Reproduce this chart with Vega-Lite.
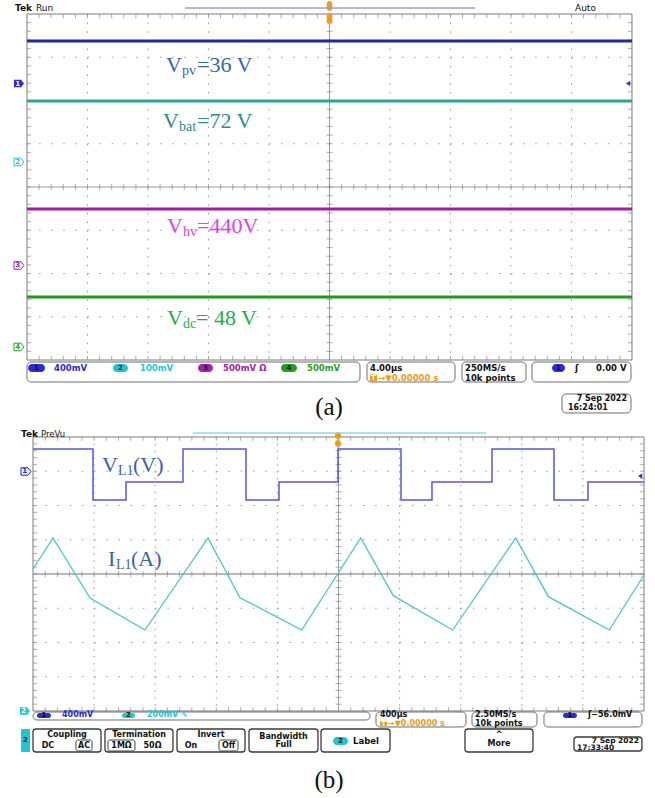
{
"$schema":"https://vega.github.io/schema/vega-lite/v6.json",
"background":"#ffffff",
"padding":0,
"spacing":0,
"bounds":"flush",
"config":{"view":{"stroke":null}},
"datasets":{
"gv":[{"x":1,"y":4,"y2":-4},{"x":2,"y":4,"y2":-4},{"x":3,"y":4,"y2":-4},{"x":4,"y":4,"y2":-4},{"x":6,"y":4,"y2":-4},{"x":7,"y":4,"y2":-4},{"x":8,"y":4,"y2":-4},{"x":9,"y":4,"y2":-4}],
"gh":[{"x":0,"x2":10,"y":3},{"x":0,"x2":10,"y":2},{"x":0,"x2":10,"y":1},{"x":0,"x2":10,"y":-1},{"x":0,"x2":10,"y":-2},{"x":0,"x2":10,"y":-3}],
"frame":[{"x":0,"x2":10,"y":-4,"y2":4}],
"ht":[{"x":0.2,"y":0,"a":3.95,"b":-3.95},{"x":0.4,"y":0,"a":3.95,"b":-3.95},{"x":0.6,"y":0,"a":3.95,"b":-3.95},{"x":0.8,"y":0,"a":3.95,"b":-3.95},{"x":1,"y":0,"a":3.95,"b":-3.95},{"x":1.2,"y":0,"a":3.95,"b":-3.95},{"x":1.4,"y":0,"a":3.95,"b":-3.95},{"x":1.6,"y":0,"a":3.95,"b":-3.95},{"x":1.8,"y":0,"a":3.95,"b":-3.95},{"x":2,"y":0,"a":3.95,"b":-3.95},{"x":2.2,"y":0,"a":3.95,"b":-3.95},{"x":2.4,"y":0,"a":3.95,"b":-3.95},{"x":2.6,"y":0,"a":3.95,"b":-3.95},{"x":2.8,"y":0,"a":3.95,"b":-3.95},{"x":3,"y":0,"a":3.95,"b":-3.95},{"x":3.2,"y":0,"a":3.95,"b":-3.95},{"x":3.4,"y":0,"a":3.95,"b":-3.95},{"x":3.6,"y":0,"a":3.95,"b":-3.95},{"x":3.8,"y":0,"a":3.95,"b":-3.95},{"x":4,"y":0,"a":3.95,"b":-3.95},{"x":4.2,"y":0,"a":3.95,"b":-3.95},{"x":4.4,"y":0,"a":3.95,"b":-3.95},{"x":4.6,"y":0,"a":3.95,"b":-3.95},{"x":4.8,"y":0,"a":3.95,"b":-3.95},{"x":5,"y":0,"a":3.95,"b":-3.95},{"x":5.2,"y":0,"a":3.95,"b":-3.95},{"x":5.4,"y":0,"a":3.95,"b":-3.95},{"x":5.6,"y":0,"a":3.95,"b":-3.95},{"x":5.8,"y":0,"a":3.95,"b":-3.95},{"x":6,"y":0,"a":3.95,"b":-3.95},{"x":6.2,"y":0,"a":3.95,"b":-3.95},{"x":6.4,"y":0,"a":3.95,"b":-3.95},{"x":6.6,"y":0,"a":3.95,"b":-3.95},{"x":6.8,"y":0,"a":3.95,"b":-3.95},{"x":7,"y":0,"a":3.95,"b":-3.95},{"x":7.2,"y":0,"a":3.95,"b":-3.95},{"x":7.4,"y":0,"a":3.95,"b":-3.95},{"x":7.6,"y":0,"a":3.95,"b":-3.95},{"x":7.8,"y":0,"a":3.95,"b":-3.95},{"x":8,"y":0,"a":3.95,"b":-3.95},{"x":8.2,"y":0,"a":3.95,"b":-3.95},{"x":8.4,"y":0,"a":3.95,"b":-3.95},{"x":8.6,"y":0,"a":3.95,"b":-3.95},{"x":8.8,"y":0,"a":3.95,"b":-3.95},{"x":9,"y":0,"a":3.95,"b":-3.95},{"x":9.2,"y":0,"a":3.95,"b":-3.95},{"x":9.4,"y":0,"a":3.95,"b":-3.95},{"x":9.6,"y":0,"a":3.95,"b":-3.95},{"x":9.8,"y":0,"a":3.95,"b":-3.95}],
"vt":[{"y":-3.8,"x":5,"l":0.035,"r":9.965},{"y":-3.6,"x":5,"l":0.035,"r":9.965},{"y":-3.4,"x":5,"l":0.035,"r":9.965},{"y":-3.2,"x":5,"l":0.035,"r":9.965},{"y":-3,"x":5,"l":0.035,"r":9.965},{"y":-2.8,"x":5,"l":0.035,"r":9.965},{"y":-2.6,"x":5,"l":0.035,"r":9.965},{"y":-2.4,"x":5,"l":0.035,"r":9.965},{"y":-2.2,"x":5,"l":0.035,"r":9.965},{"y":-2,"x":5,"l":0.035,"r":9.965},{"y":-1.8,"x":5,"l":0.035,"r":9.965},{"y":-1.6,"x":5,"l":0.035,"r":9.965},{"y":-1.4,"x":5,"l":0.035,"r":9.965},{"y":-1.2,"x":5,"l":0.035,"r":9.965},{"y":-1,"x":5,"l":0.035,"r":9.965},{"y":-0.8,"x":5,"l":0.035,"r":9.965},{"y":-0.6,"x":5,"l":0.035,"r":9.965},{"y":-0.4,"x":5,"l":0.035,"r":9.965},{"y":-0.2,"x":5,"l":0.035,"r":9.965},{"y":0,"x":5,"l":0.035,"r":9.965},{"y":0.2,"x":5,"l":0.035,"r":9.965},{"y":0.4,"x":5,"l":0.035,"r":9.965},{"y":0.6,"x":5,"l":0.035,"r":9.965},{"y":0.8,"x":5,"l":0.035,"r":9.965},{"y":1,"x":5,"l":0.035,"r":9.965},{"y":1.2,"x":5,"l":0.035,"r":9.965},{"y":1.4,"x":5,"l":0.035,"r":9.965},{"y":1.6,"x":5,"l":0.035,"r":9.965},{"y":1.8,"x":5,"l":0.035,"r":9.965},{"y":2,"x":5,"l":0.035,"r":9.965},{"y":2.2,"x":5,"l":0.035,"r":9.965},{"y":2.4,"x":5,"l":0.035,"r":9.965},{"y":2.6,"x":5,"l":0.035,"r":9.965},{"y":2.8,"x":5,"l":0.035,"r":9.965},{"y":3,"x":5,"l":0.035,"r":9.965},{"y":3.2,"x":5,"l":0.035,"r":9.965},{"y":3.4,"x":5,"l":0.035,"r":9.965},{"y":3.6,"x":5,"l":0.035,"r":9.965},{"y":3.8,"x":5,"l":0.035,"r":9.965}]
},
"vconcat":[
{
"width":655,"height":420,
"encoding":{
"x":{"field":"x","type":"quantitative","scale":{"domain":[-0.44628,10.38017],"nice":false,"zero":false},"axis":null},
"y":{"field":"y","type":"quantitative","scale":{"domain":[-5.38728,4.3237],"nice":false,"zero":false},"axis":null}
},
"layer":[
{"data":{"name":"gv"},"mark":{"type":"rule","color":"#9a9a9a","strokeWidth":1,"strokeDash":[1.5,7.15]},"encoding":{"y2":{"field":"y2"}}},
{"data":{"name":"gh"},"mark":{"type":"rule","color":"#9a9a9a","strokeWidth":1,"strokeDash":[1.5,10.6]},"encoding":{"x2":{"field":"x2"}}},
{"data":{"values":[{"x":5,"x2":5,"y":4,"y2":-4},{"x":0,"x2":10,"y":0,"y2":0}]},"mark":{"type":"rule","color":"#9a9a9a","strokeWidth":1},"encoding":{"x2":{"field":"x2"},"y2":{"field":"y2"}}},
{"data":{"name":"ht"},"mark":{"type":"tick","orient":"vertical","size":6,"thickness":1,"color":"#8a8a8a"}},
{"data":{"name":"ht"},"transform":[{"fold":["a","b"],"as":["side","yb"]}],"mark":{"type":"tick","orient":"vertical","size":4,"thickness":1,"color":"#8a8a8a"},
 "encoding":{"y":{"field":"yb","type":"quantitative","scale":{"domain":[-5.38728,4.3237],"nice":false,"zero":false},"axis":null}}},
{"data":{"name":"vt"},"mark":{"type":"tick","orient":"horizontal","size":6,"thickness":1,"color":"#8a8a8a"}},
{"data":{"name":"vt"},"transform":[{"fold":["l","r"],"as":["side","xb"]}],"mark":{"type":"tick","orient":"horizontal","size":4,"thickness":1,"color":"#8a8a8a"},
 "encoding":{"x":{"field":"xb","type":"quantitative","scale":{"domain":[-0.44628,10.38017],"nice":false,"zero":false},"axis":null}}},
{"data":{"name":"frame"},"mark":{"type":"rect","fill":"#ffffff","fillOpacity":0,"stroke":"#7a7a7a","strokeWidth":1},"encoding":{"x2":{"field":"x2"},"y2":{"field":"y2"}}},
{"data":{"values":[{"x":0,"y":3.376,"k":"t1"},{"x":10,"y":3.376,"k":"t1"},{"x":0,"y":1.988,"k":"t2"},{"x":10,"y":1.988,"k":"t2"},{"x":0,"y":-0.509,"k":"t3"},{"x":10,"y":-0.509,"k":"t3"},{"x":0,"y":-2.543,"k":"t4"},{"x":10,"y":-2.543,"k":"t4"}]},
 "mark":{"type":"line","strokeWidth":3.2},
 "encoding":{"color":{"field":"k","type":"nominal","scale":{"domain":["c1","c2","c3","c4","l1","l2","l3","l4","lb","t1","t2","t3","t4","k","o","w","v1","i1"],"range":["#2a2ad8","#1ec6d8","#a421a4","#1f9f1f","#3b62b4","#2d8c8c","#e83ce8","#22ae4a","#3b5fb0","#1e2b9b","#2aa59a","#a41aa4","#1f9a1f","#111111","#f09a1a","#ffffff","#5656e2","#46c8c8"]},"legend":null}}},
{"data":{"values":[{"x":2.298,"y":2.659,"t":"V","k":"l1"},{"x":2.81,"y":2.659,"t":"=36 V","k":"l1"},{"x":2.248,"y":1.364,"t":"V","k":"l2"},{"x":2.81,"y":1.364,"t":"=72 V","k":"l2"},{"x":2.314,"y":-1.064,"t":"V","k":"l3"},{"x":2.81,"y":-1.064,"t":"=440V","k":"l3"},{"x":2.314,"y":-3.191,"t":"V","k":"l4"},{"x":2.793,"y":-3.191,"t":"= 48 V","k":"l4"}]},
 "mark":{"type":"text","font":"Liberation Serif","fontSize":22,"align":"left","baseline":"alphabetic"},
 "encoding":{"text":{"field":"t"},"color":{"field":"k","type":"nominal","scale":{"domain":["c1","c2","c3","c4","l1","l2","l3","l4","lb","t1","t2","t3","t4","k","o","w","v1","i1"],"range":["#2a2ad8","#1ec6d8","#a421a4","#1f9f1f","#3b62b4","#2d8c8c","#e83ce8","#22ae4a","#3b5fb0","#1e2b9b","#2aa59a","#a41aa4","#1f9a1f","#111111","#f09a1a","#ffffff","#5656e2","#46c8c8"]},"legend":null}}},
{"data":{"values":[{"x":2.562,"y":2.59,"t":"pv","k":"l1"},{"x":2.512,"y":1.295,"t":"bat","k":"l2"},{"x":2.579,"y":-1.133,"t":"hv","k":"l3"},{"x":2.579,"y":-3.26,"t":"dc","k":"l4"}]},
 "mark":{"type":"text","font":"Liberation Serif","fontSize":14,"align":"left","baseline":"alphabetic"},
 "encoding":{"text":{"field":"t"},"color":{"field":"k","type":"nominal","scale":{"domain":["c1","c2","c3","c4","l1","l2","l3","l4","lb","t1","t2","t3","t4","k","o","w","v1","i1"],"range":["#2a2ad8","#1ec6d8","#a421a4","#1f9f1f","#3b62b4","#2d8c8c","#e83ce8","#22ae4a","#3b5fb0","#1e2b9b","#2aa59a","#a41aa4","#1f9a1f","#111111","#f09a1a","#ffffff","#5656e2","#46c8c8"]},"legend":null}}},
{"data":{"values":[{"x":0,"x2":5.504,"y":-4.046,"y2":-4.509},{"x":5.62,"x2":7.074,"y":-4.046,"y2":-4.509},{"x":7.19,"x2":8.248,"y":-4.046,"y2":-4.509},{"x":8.347,"x2":9.983,"y":-4.046,"y2":-4.509},{"x":8.843,"x2":9.983,"y":-4.786,"y2":-5.225}]},
 "mark":{"type":"rect","fill":"#ffffff","stroke":"#6e6e6e","strokeWidth":1,"cornerRadius":4},
 "encoding":{"x2":{"field":"x2"},"y2":{"field":"y2"}}},
{"data":{"values":[{"x":0.017,"x2":0.298,"y":-4.093,"y2":-4.278,"k":"c1"},{"x":1.421,"x2":1.669,"y":-4.093,"y2":-4.278,"k":"c2"},{"x":2.826,"x2":3.074,"y":-4.093,"y2":-4.278,"k":"c3"},{"x":4.198,"x2":4.463,"y":-4.093,"y2":-4.278,"k":"c4"},{"x":8.678,"x2":8.893,"y":-4.093,"y2":-4.278,"k":"c1"},{"x":4.954,"x2":5.046,"y":4.301,"y2":4.069,"k":"o"},{"x":4.954,"x2":5.046,"y":4.023,"y2":3.769,"k":"o"}]},
 "mark":{"type":"rect","cornerRadius":4},
 "encoding":{"x2":{"field":"x2"},"y2":{"field":"y2"},"color":{"field":"k","type":"nominal","scale":{"domain":["c1","c2","c3","c4","l1","l2","l3","l4","lb","t1","t2","t3","t4","k","o","w","v1","i1"],"range":["#2a2ad8","#1ec6d8","#a421a4","#1f9f1f","#3b62b4","#2d8c8c","#e83ce8","#22ae4a","#3b5fb0","#1e2b9b","#2aa59a","#a41aa4","#1f9a1f","#111111","#f09a1a","#ffffff","#5656e2","#46c8c8"]},"legend":null}}},
{"data":{"values":[{"x":5.669,"x2":5.785,"y":-4.335,"y2":-4.497,"k":"o"}]},
 "mark":{"type":"rect","cornerRadius":1},
 "encoding":{"x2":{"field":"x2"},"y2":{"field":"y2"},"color":{"field":"k","type":"nominal","scale":{"domain":["c1","c2","c3","c4","l1","l2","l3","l4","lb","t1","t2","t3","t4","k","o","w","v1","i1"],"range":["#2a2ad8","#1ec6d8","#a421a4","#1f9f1f","#3b62b4","#2d8c8c","#e83ce8","#22ae4a","#3b5fb0","#1e2b9b","#2aa59a","#a41aa4","#1f9a1f","#111111","#f09a1a","#ffffff","#5656e2","#46c8c8"]},"legend":null}}},
{"data":{"values":[{"x":2.612,"x2":7.405,"y":4.139}]},
 "mark":{"type":"rule","color":"#9a9af0","strokeWidth":1.5},
 "encoding":{"x2":{"field":"x2"}}},
{"data":{"values":[{"x":0.446,"y":-4.185,"t":"400mV","k":"c1"},{"x":1.868,"y":-4.185,"t":"100mV","k":"c2"},{"x":3.24,"y":-4.185,"t":"500mV Ω","k":"c3"},{"x":4.628,"y":-4.185,"t":"500mV","k":"c4"},{"x":5.669,"y":-4.185,"t":"4.00µs","k":"k"},{"x":5.802,"y":-4.416,"t":"→▼0.00000 s","k":"o"},{"x":7.24,"y":-4.185,"t":"250MS/s","k":"k"},{"x":7.24,"y":-4.416,"t":"10k points","k":"k"},{"x":9.058,"y":-4.185,"t":"ʃ","k":"k"},{"x":9.405,"y":-4.185,"t":"0.00 V","k":"k"}]},
 "mark":{"type":"text","font":"DejaVu Sans","fontSize":8.5,"fontWeight":"bold","align":"left","baseline":"middle"},
 "encoding":{"text":{"field":"t"},"color":{"field":"k","type":"nominal","scale":{"domain":["c1","c2","c3","c4","l1","l2","l3","l4","lb","t1","t2","t3","t4","k","o","w","v1","i1"],"range":["#2a2ad8","#1ec6d8","#a421a4","#1f9f1f","#3b62b4","#2d8c8c","#e83ce8","#22ae4a","#3b5fb0","#1e2b9b","#2aa59a","#a41aa4","#1f9a1f","#111111","#f09a1a","#ffffff","#5656e2","#46c8c8"]},"legend":null}}},
{"data":{"values":[{"x":9.058,"y":4.139,"t":"Auto","k":"k"},{"x":0.149,"y":4.139,"t":"Run","k":"k"}]},
 "mark":{"type":"text","font":"DejaVu Sans","fontSize":9,"align":"left","baseline":"middle"},
 "encoding":{"text":{"field":"t"},"color":{"field":"k","type":"nominal","scale":{"domain":["c1","c2","c3","c4","l1","l2","l3","l4","lb","t1","t2","t3","t4","k","o","w","v1","i1"],"range":["#2a2ad8","#1ec6d8","#a421a4","#1f9f1f","#3b62b4","#2d8c8c","#e83ce8","#22ae4a","#3b5fb0","#1e2b9b","#2aa59a","#a41aa4","#1f9a1f","#111111","#f09a1a","#ffffff","#5656e2","#46c8c8"]},"legend":null}}},
{"data":{"values":[{"x":8.942,"y":-5.115,"t":"16:24:01","k":"k"}]},
 "mark":{"type":"text","font":"DejaVu Sans","fontSize":8,"fontWeight":"bold","align":"left","baseline":"middle"},
 "encoding":{"text":{"field":"t"},"color":{"field":"k","type":"nominal","scale":{"domain":["c1","c2","c3","c4","l1","l2","l3","l4","lb","t1","t2","t3","t4","k","o","w","v1","i1"],"range":["#2a2ad8","#1ec6d8","#a421a4","#1f9f1f","#3b62b4","#2d8c8c","#e83ce8","#22ae4a","#3b5fb0","#1e2b9b","#2aa59a","#a41aa4","#1f9a1f","#111111","#f09a1a","#ffffff","#5656e2","#46c8c8"]},"legend":null}}},
{"data":{"values":[{"x":9.917,"y":-4.91,"t":"7 Sep 2022","k":"k"}]},
 "mark":{"type":"text","font":"DejaVu Sans","fontSize":8,"fontWeight":"bold","align":"right","baseline":"middle"},
 "encoding":{"text":{"field":"t"},"color":{"field":"k","type":"nominal","scale":{"domain":["c1","c2","c3","c4","l1","l2","l3","l4","lb","t1","t2","t3","t4","k","o","w","v1","i1"],"range":["#2a2ad8","#1ec6d8","#a421a4","#1f9f1f","#3b62b4","#2d8c8c","#e83ce8","#22ae4a","#3b5fb0","#1e2b9b","#2aa59a","#a41aa4","#1f9a1f","#111111","#f09a1a","#ffffff","#5656e2","#46c8c8"]},"legend":null}}},
{"data":{"values":[{"x":0.157,"y":-4.185,"t":"1","k":"k"},{"x":1.545,"y":-4.185,"t":"2","k":"k"},{"x":2.95,"y":-4.185,"t":"3","k":"k"},{"x":4.33,"y":-4.185,"t":"4","k":"k"},{"x":8.785,"y":-4.185,"t":"1","k":"k"},{"x":5.727,"y":-4.416,"t":"T","k":"w"}]},
 "mark":{"type":"text","font":"DejaVu Sans","fontSize":7,"fontWeight":"bold","align":"center","baseline":"middle"},
 "encoding":{"text":{"field":"t"},"color":{"field":"k","type":"nominal","scale":{"domain":["c1","c2","c3","c4","l1","l2","l3","l4","lb","t1","t2","t3","t4","k","o","w","v1","i1"],"range":["#2a2ad8","#1ec6d8","#a421a4","#1f9f1f","#3b62b4","#2d8c8c","#e83ce8","#22ae4a","#3b5fb0","#1e2b9b","#2aa59a","#a41aa4","#1f9a1f","#111111","#f09a1a","#ffffff","#5656e2","#46c8c8"]},"legend":null}}},
{"data":{"values":[{"x":-0.198,"y":4.139,"t":"Tek","k":"k"}]},
 "mark":{"type":"text","font":"DejaVu Sans","fontSize":9,"fontWeight":"bold","align":"left","baseline":"middle"},
 "encoding":{"text":{"field":"t"},"color":{"field":"k","type":"nominal","scale":{"domain":["c1","c2","c3","c4","l1","l2","l3","l4","lb","t1","t2","t3","t4","k","o","w","v1","i1"],"range":["#2a2ad8","#1ec6d8","#a421a4","#1f9f1f","#3b62b4","#2d8c8c","#e83ce8","#22ae4a","#3b5fb0","#1e2b9b","#2aa59a","#a41aa4","#1f9a1f","#111111","#f09a1a","#ffffff","#5656e2","#46c8c8"]},"legend":null}}},
{"data":{"values":[{"x":-0.132,"y":2.393,"k":"c1"}]},
 "mark":{"type":"point","shape":"M-1,-0.75L0.4,-0.75L1,0L0.4,0.75L-1,0.75Z","size":100,"filled":true,"opacity":1},
 "encoding":{"color":{"field":"k","type":"nominal","scale":{"domain":["c1","c2","c3","c4","l1","l2","l3","l4","lb","t1","t2","t3","t4","k","o","w","v1","i1"],"range":["#2a2ad8","#1ec6d8","#a421a4","#1f9f1f","#3b62b4","#2d8c8c","#e83ce8","#22ae4a","#3b5fb0","#1e2b9b","#2aa59a","#a41aa4","#1f9a1f","#111111","#f09a1a","#ffffff","#5656e2","#46c8c8"]},"legend":null}}},
{"data":{"values":[{"x":-0.132,"y":0.578,"k":"c2"},{"x":-0.132,"y":-1.815,"k":"c3"},{"x":-0.132,"y":-3.699,"k":"c4"}]},
 "mark":{"type":"point","shape":"M-1,-0.75L0.4,-0.75L1,0L0.4,0.75L-1,0.75Z","size":100,"filled":false,"fill":"#ffffff","fillOpacity":1,"opacity":1,"strokeWidth":1},
 "encoding":{"stroke":{"field":"k","type":"nominal","scale":{"domain":["c1","c2","c3","c4","l1","l2","l3","l4","lb","t1","t2","t3","t4","k","o","w","v1","i1"],"range":["#2a2ad8","#1ec6d8","#a421a4","#1f9f1f","#3b62b4","#2d8c8c","#e83ce8","#22ae4a","#3b5fb0","#1e2b9b","#2aa59a","#a41aa4","#1f9a1f","#111111","#f09a1a","#ffffff","#5656e2","#46c8c8"]},"legend":null}}},
{"data":{"values":[{"x":-0.152,"y":2.393,"t":"1","k":"w"},{"x":-0.152,"y":0.578,"t":"2","k":"c2"},{"x":-0.152,"y":-1.815,"t":"3","k":"c3"},{"x":-0.152,"y":-3.699,"t":"4","k":"c4"}]},
 "mark":{"type":"text","font":"DejaVu Sans","fontSize":7,"fontWeight":"bold","align":"center","baseline":"middle"},
 "encoding":{"text":{"field":"t"},"color":{"field":"k","type":"nominal","scale":{"domain":["c1","c2","c3","c4","l1","l2","l3","l4","lb","t1","t2","t3","t4","k","o","w","v1","i1"],"range":["#2a2ad8","#1ec6d8","#a421a4","#1f9f1f","#3b62b4","#2d8c8c","#e83ce8","#22ae4a","#3b5fb0","#1e2b9b","#2aa59a","#a41aa4","#1f9a1f","#111111","#f09a1a","#ffffff","#5656e2","#46c8c8"]},"legend":null}}},
{"data":{"values":[{"x":9.934,"y":2.393,"k":"c1"}]},
 "mark":{"type":"point","shape":"triangle-left","size":25,"filled":true,"opacity":1},
 "encoding":{"color":{"field":"k","type":"nominal","scale":{"domain":["c1","c2","c3","c4","l1","l2","l3","l4","lb","t1","t2","t3","t4","k","o","w","v1","i1"],"range":["#2a2ad8","#1ec6d8","#a421a4","#1f9f1f","#3b62b4","#2d8c8c","#e83ce8","#22ae4a","#3b5fb0","#1e2b9b","#2aa59a","#a41aa4","#1f9a1f","#111111","#f09a1a","#ffffff","#5656e2","#46c8c8"]},"legend":null}}},
{"data":{"values":[{"x":4.992,"y":-5.087,"t":"(a)","k":"k"}]},
 "mark":{"type":"text","font":"Liberation Serif","fontSize":25,"align":"center","baseline":"middle"},
 "encoding":{"text":{"field":"t"},"color":{"field":"k","type":"nominal","scale":{"domain":["c1","c2","c3","c4","l1","l2","l3","l4","lb","t1","t2","t3","t4","k","o","w","v1","i1"],"range":["#2a2ad8","#1ec6d8","#a421a4","#1f9f1f","#3b62b4","#2d8c8c","#e83ce8","#22ae4a","#3b5fb0","#1e2b9b","#2aa59a","#a41aa4","#1f9a1f","#111111","#f09a1a","#ffffff","#5656e2","#46c8c8"]},"legend":null}}}
]
},
{
"width":655,"height":378,
"encoding":{
"x":{"field":"x","type":"quantitative","scale":{"domain":[-0.5401,10.18003],"nice":false,"zero":false},"axis":null},
"y":{"field":"y","type":"quantitative","scale":{"domain":[-6.54015,4.49635],"nice":false,"zero":false},"axis":null}
},
"layer":[
{"data":{"name":"gv"},"mark":{"type":"rule","color":"#9a9a9a","strokeWidth":1,"strokeDash":[1.5,5.35]},"encoding":{"y2":{"field":"y2"}}},
{"data":{"name":"gh"},"mark":{"type":"rule","color":"#9a9a9a","strokeWidth":1,"strokeDash":[1.5,10.72]},"encoding":{"x2":{"field":"x2"}}},
{"data":{"values":[{"x":5,"x2":5,"y":4,"y2":-4}]},"mark":{"type":"rule","color":"#a0a0a0","strokeWidth":1},"encoding":{"x2":{"field":"x2"},"y2":{"field":"y2"}}},
{"data":{"values":[{"x":0,"x2":10,"y":0,"y2":0}]},"mark":{"type":"rule","color":"#b8b8b8","strokeWidth":2},"encoding":{"x2":{"field":"x2"},"y2":{"field":"y2"}}},
{"data":{"name":"ht"},"mark":{"type":"tick","orient":"vertical","size":6,"thickness":1,"color":"#8a8a8a"}},
{"data":{"name":"ht"},"transform":[{"fold":["a","b"],"as":["side","yb"]}],"mark":{"type":"tick","orient":"vertical","size":4,"thickness":1,"color":"#8a8a8a"},
 "encoding":{"y":{"field":"yb","type":"quantitative","scale":{"domain":[-6.54015,4.49635],"nice":false,"zero":false},"axis":null}}},
{"data":{"name":"vt"},"mark":{"type":"tick","orient":"horizontal","size":6,"thickness":1,"color":"#8a8a8a"}},
{"data":{"name":"vt"},"transform":[{"fold":["l","r"],"as":["side","xb"]}],"mark":{"type":"tick","orient":"horizontal","size":4,"thickness":1,"color":"#8a8a8a"},
 "encoding":{"x":{"field":"xb","type":"quantitative","scale":{"domain":[-0.5401,10.18003],"nice":false,"zero":false},"axis":null}}},
{"data":{"name":"frame"},"mark":{"type":"rect","fill":"#ffffff","fillOpacity":0,"stroke":"#7a7a7a","strokeWidth":1},"encoding":{"x2":{"field":"x2"},"y2":{"field":"y2"}}},
{"data":{"values":[{"i":0,"x":0,"y":3.65,"k":"v1"},{"i":1,"x":0.982,"y":3.65,"k":"v1"},{"i":2,"x":0.982,"y":2.161,"k":"v1"},{"i":3,"x":1.522,"y":2.161,"k":"v1"},{"i":4,"x":1.522,"y":2.686,"k":"v1"},{"i":5,"x":2.455,"y":2.686,"k":"v1"},{"i":6,"x":2.455,"y":3.65,"k":"v1"},{"i":7,"x":3.486,"y":3.65,"k":"v1"},{"i":8,"x":3.486,"y":2.161,"k":"v1"},{"i":9,"x":4.026,"y":2.161,"k":"v1"},{"i":10,"x":4.026,"y":2.686,"k":"v1"},{"i":11,"x":4.992,"y":2.686,"k":"v1"},{"i":12,"x":4.992,"y":3.65,"k":"v1"},{"i":13,"x":6.023,"y":3.65,"k":"v1"},{"i":14,"x":6.023,"y":2.161,"k":"v1"},{"i":15,"x":6.53,"y":2.161,"k":"v1"},{"i":16,"x":6.53,"y":2.686,"k":"v1"},{"i":17,"x":7.512,"y":2.686,"k":"v1"},{"i":18,"x":7.512,"y":3.65,"k":"v1"},{"i":19,"x":8.527,"y":3.65,"k":"v1"},{"i":20,"x":8.527,"y":2.161,"k":"v1"},{"i":21,"x":9.083,"y":2.161,"k":"v1"},{"i":22,"x":9.083,"y":2.686,"k":"v1"},{"i":23,"x":10,"y":2.686,"k":"v1"}]},
 "mark":{"type":"line","strokeWidth":1.5},
 "encoding":{"order":{"field":"i","type":"quantitative"},"color":{"field":"k","type":"nominal","scale":{"domain":["c1","c2","c3","c4","l1","l2","l3","l4","lb","t1","t2","t3","t4","k","o","w","v1","i1"],"range":["#2a2ad8","#1ec6d8","#a421a4","#1f9f1f","#3b62b4","#2d8c8c","#e83ce8","#22ae4a","#3b5fb0","#1e2b9b","#2aa59a","#a41aa4","#1f9a1f","#111111","#f09a1a","#ffffff","#5656e2","#46c8c8"]},"legend":null}}},
{"data":{"values":[{"i":0,"x":0,"y":0.146,"k":"i1"},{"i":1,"x":0.327,"y":1.051,"k":"i1"},{"i":2,"x":0.933,"y":-0.701,"k":"i1"},{"i":3,"x":1.833,"y":-1.635,"k":"i1"},{"i":4,"x":2.864,"y":1.051,"k":"i1"},{"i":5,"x":3.388,"y":-0.692,"k":"i1"},{"i":6,"x":4.398,"y":-1.635,"k":"i1"},{"i":7,"x":5.363,"y":1.051,"k":"i1"},{"i":8,"x":5.897,"y":-0.633,"k":"i1"},{"i":9,"x":6.869,"y":-1.635,"k":"i1"},{"i":10,"x":7.9,"y":1.051,"k":"i1"},{"i":11,"x":8.434,"y":-0.662,"k":"i1"},{"i":12,"x":9.432,"y":-1.635,"k":"i1"},{"i":13,"x":10,"y":-0.03,"k":"i1"}]},
 "mark":{"type":"line","strokeWidth":1.3},
 "encoding":{"order":{"field":"i","type":"quantitative"},"color":{"field":"k","type":"nominal","scale":{"domain":["c1","c2","c3","c4","l1","l2","l3","l4","lb","t1","t2","t3","t4","k","o","w","v1","i1"],"range":["#2a2ad8","#1ec6d8","#a421a4","#1f9f1f","#3b62b4","#2d8c8c","#e83ce8","#22ae4a","#3b5fb0","#1e2b9b","#2aa59a","#a41aa4","#1f9a1f","#111111","#f09a1a","#ffffff","#5656e2","#46c8c8"]},"legend":null}}},
{"data":{"values":[{"x":1.129,"y":2.978,"t":"V","k":"lb"},{"x":1.637,"y":2.978,"t":"(V)","k":"lb"},{"x":1.227,"y":0.234,"t":"I","k":"lb"},{"x":1.604,"y":0.234,"t":"(A)","k":"lb"}]},
 "mark":{"type":"text","font":"Liberation Serif","fontSize":22,"align":"left","baseline":"alphabetic"},
 "encoding":{"text":{"field":"t"},"color":{"field":"k","type":"nominal","scale":{"domain":["c1","c2","c3","c4","l1","l2","l3","l4","lb","t1","t2","t3","t4","k","o","w","v1","i1"],"range":["#2a2ad8","#1ec6d8","#a421a4","#1f9f1f","#3b62b4","#2d8c8c","#e83ce8","#22ae4a","#3b5fb0","#1e2b9b","#2aa59a","#a41aa4","#1f9a1f","#111111","#f09a1a","#ffffff","#5656e2","#46c8c8"]},"legend":null}}},
{"data":{"values":[{"x":1.391,"y":2.891,"t":"L1","k":"lb"},{"x":1.358,"y":0.146,"t":"L1","k":"lb"}]},
 "mark":{"type":"text","font":"Liberation Serif","fontSize":14,"align":"left","baseline":"alphabetic"},
 "encoding":{"text":{"field":"t"},"color":{"field":"k","type":"nominal","scale":{"domain":["c1","c2","c3","c4","l1","l2","l3","l4","lb","t1","t2","t3","t4","k","o","w","v1","i1"],"range":["#2a2ad8","#1ec6d8","#a421a4","#1f9f1f","#3b62b4","#2d8c8c","#e83ce8","#22ae4a","#3b5fb0","#1e2b9b","#2aa59a","#a41aa4","#1f9a1f","#111111","#f09a1a","#ffffff","#5656e2","#46c8c8"]},"legend":null}}},
{"data":{"values":[{"x":0,"x2":5.516,"y":-4.029,"y2":-4.263},{"x":5.614,"x2":7.087,"y":-4.029,"y2":-4.467},{"x":7.185,"x2":8.249,"y":-4.029,"y2":-4.467},{"x":8.363,"x2":9.967,"y":-4.029,"y2":-4.467}]},
 "mark":{"type":"rect","fill":"#ffffff","stroke":"#6e6e6e","strokeWidth":1,"cornerRadius":4},
 "encoding":{"x2":{"field":"x2"},"y2":{"field":"y2"}}},
{"data":{"values":[{"x":0,"x2":1.113,"y":-4.526,"y2":-5.197},{"x":1.178,"x2":2.291,"y":-4.526,"y2":-5.197},{"x":2.357,"x2":3.47,"y":-4.526,"y2":-5.197},{"x":3.535,"x2":4.664,"y":-4.526,"y2":-5.197},{"x":4.714,"x2":5.843,"y":-4.526,"y2":-5.197},{"x":7.07,"x2":8.183,"y":-4.526,"y2":-5.197},{"x":8.854,"x2":9.967,"y":-4.759,"y2":-5.168}]},
 "mark":{"type":"rect","fill":"#ffffff","stroke":"#3a3a3a","strokeWidth":1.3,"cornerRadius":3},
 "encoding":{"x2":{"field":"x2"},"y2":{"field":"y2"}}},
{"data":{"values":[{"x":0.704,"x2":0.966,"y":-4.847,"y2":-5.168},{"x":1.227,"x2":1.669,"y":-4.847,"y2":-5.168},{"x":3.044,"x2":3.355,"y":-4.847,"y2":-5.168}]},
 "mark":{"type":"rect","fill":"#ffffff","stroke":"#444444","strokeWidth":1,"cornerRadius":2},
 "encoding":{"x2":{"field":"x2"},"y2":{"field":"y2"}}},
{"data":{"values":[{"x":0.065,"x2":0.295,"y":-4.058,"y2":-4.204,"k":"c1"},{"x":1.457,"x2":1.669,"y":-4.058,"y2":-4.204,"k":"c2"},{"x":8.674,"x2":8.903,"y":-4.058,"y2":-4.204,"k":"c1"},{"x":4.943,"x2":5.041,"y":4.146,"y2":3.942,"k":"o"},{"x":4.943,"x2":5.041,"y":3.912,"y2":3.708,"k":"o"},{"x":4.91,"x2":5.155,"y":-4.759,"y2":-4.993,"k":"c2"}]},
 "mark":{"type":"rect","cornerRadius":4},
 "encoding":{"x2":{"field":"x2"},"y2":{"field":"y2"},"color":{"field":"k","type":"nominal","scale":{"domain":["c1","c2","c3","c4","l1","l2","l3","l4","lb","t1","t2","t3","t4","k","o","w","v1","i1"],"range":["#2a2ad8","#1ec6d8","#a421a4","#1f9f1f","#3b62b4","#2d8c8c","#e83ce8","#22ae4a","#3b5fb0","#1e2b9b","#2aa59a","#a41aa4","#1f9a1f","#111111","#f09a1a","#ffffff","#5656e2","#46c8c8"]},"legend":null}}},
{"data":{"values":[{"x":5.679,"x2":5.794,"y":-4.292,"y2":-4.438,"k":"o"},{"x":-0.196,"x2":-0.049,"y":-4.526,"y2":-5.197,"k":"c2"}]},
 "mark":{"type":"rect","cornerRadius":1},
 "encoding":{"x2":{"field":"x2"},"y2":{"field":"y2"},"color":{"field":"k","type":"nominal","scale":{"domain":["c1","c2","c3","c4","l1","l2","l3","l4","lb","t1","t2","t3","t4","k","o","w","v1","i1"],"range":["#2a2ad8","#1ec6d8","#a421a4","#1f9f1f","#3b62b4","#2d8c8c","#e83ce8","#22ae4a","#3b5fb0","#1e2b9b","#2aa59a","#a41aa4","#1f9a1f","#111111","#f09a1a","#ffffff","#5656e2","#46c8c8"]},"legend":null}}},
{"data":{"values":[{"x":2.619,"x2":7.414,"y":4.117}]},
 "mark":{"type":"rule","color":"#8edbe6","strokeWidth":1.5},
 "encoding":{"x2":{"field":"x2"}}},
{"data":{"values":[{"x":0.475,"y":-4.131,"t":"400mV","k":"c1"},{"x":1.866,"y":-4.131,"t":"200mV ∿","k":"c2"},{"x":5.679,"y":-4.131,"t":"400µs","k":"k"},{"x":5.81,"y":-4.365,"t":"→▼0.00000 s","k":"o"},{"x":7.234,"y":-4.131,"t":"2.50MS/s","k":"k"},{"x":7.234,"y":-4.365,"t":"10k points","k":"k"},{"x":9.083,"y":-4.131,"t":"ʃ−56.0mV","k":"k"}]},
 "mark":{"type":"text","font":"DejaVu Sans","fontSize":8,"fontWeight":"bold","align":"left","baseline":"middle"},
 "encoding":{"text":{"field":"t"},"color":{"field":"k","type":"nominal","scale":{"domain":["c1","c2","c3","c4","l1","l2","l3","l4","lb","t1","t2","t3","t4","k","o","w","v1","i1"],"range":["#2a2ad8","#1ec6d8","#a421a4","#1f9f1f","#3b62b4","#2d8c8c","#e83ce8","#22ae4a","#3b5fb0","#1e2b9b","#2aa59a","#a41aa4","#1f9a1f","#111111","#f09a1a","#ffffff","#5656e2","#46c8c8"]},"legend":null}}},
{"data":{"values":[{"x":0.131,"y":4.088,"t":"PreVu","k":"k"}]},
 "mark":{"type":"text","font":"DejaVu Sans","fontSize":8.5,"align":"left","baseline":"middle"},
 "encoding":{"text":{"field":"t"},"color":{"field":"k","type":"nominal","scale":{"domain":["c1","c2","c3","c4","l1","l2","l3","l4","lb","t1","t2","t3","t4","k","o","w","v1","i1"],"range":["#2a2ad8","#1ec6d8","#a421a4","#1f9f1f","#3b62b4","#2d8c8c","#e83ce8","#22ae4a","#3b5fb0","#1e2b9b","#2aa59a","#a41aa4","#1f9a1f","#111111","#f09a1a","#ffffff","#5656e2","#46c8c8"]},"legend":null}}},
{"data":{"values":[{"x":5.237,"y":-4.876,"t":"Label","k":"k"}]},
 "mark":{"type":"text","font":"DejaVu Sans","fontSize":8.5,"fontWeight":"bold","align":"left","baseline":"middle"},
 "encoding":{"text":{"field":"t"},"color":{"field":"k","type":"nominal","scale":{"domain":["c1","c2","c3","c4","l1","l2","l3","l4","lb","t1","t2","t3","t4","k","o","w","v1","i1"],"range":["#2a2ad8","#1ec6d8","#a421a4","#1f9f1f","#3b62b4","#2d8c8c","#e83ce8","#22ae4a","#3b5fb0","#1e2b9b","#2aa59a","#a41aa4","#1f9a1f","#111111","#f09a1a","#ffffff","#5656e2","#46c8c8"]},"legend":null}}},
{"data":{"values":[{"x":8.903,"y":-5.085,"t":"17:33:40","k":"k"}]},
 "mark":{"type":"text","font":"DejaVu Sans","fontSize":7.5,"fontWeight":"bold","align":"left","baseline":"middle"},
 "encoding":{"text":{"field":"t"},"color":{"field":"k","type":"nominal","scale":{"domain":["c1","c2","c3","c4","l1","l2","l3","l4","lb","t1","t2","t3","t4","k","o","w","v1","i1"],"range":["#2a2ad8","#1ec6d8","#a421a4","#1f9f1f","#3b62b4","#2d8c8c","#e83ce8","#22ae4a","#3b5fb0","#1e2b9b","#2aa59a","#a41aa4","#1f9a1f","#111111","#f09a1a","#ffffff","#5656e2","#46c8c8"]},"legend":null}}},
{"data":{"values":[{"x":9.918,"y":-4.865,"t":"7 Sep 2022","k":"k"}]},
 "mark":{"type":"text","font":"DejaVu Sans","fontSize":7.5,"fontWeight":"bold","align":"right","baseline":"middle"},
 "encoding":{"text":{"field":"t"},"color":{"field":"k","type":"nominal","scale":{"domain":["c1","c2","c3","c4","l1","l2","l3","l4","lb","t1","t2","t3","t4","k","o","w","v1","i1"],"range":["#2a2ad8","#1ec6d8","#a421a4","#1f9f1f","#3b62b4","#2d8c8c","#e83ce8","#22ae4a","#3b5fb0","#1e2b9b","#2aa59a","#a41aa4","#1f9a1f","#111111","#f09a1a","#ffffff","#5656e2","#46c8c8"]},"legend":null}}},
{"data":{"values":[{"x":0.556,"y":-4.701,"t":"Coupling","k":"k"},{"x":0.245,"y":-5.022,"t":"DC","k":"k"},{"x":0.835,"y":-5.022,"t":"AC","k":"k"},{"x":1.735,"y":-4.701,"t":"Termination","k":"k"},{"x":1.448,"y":-5.022,"t":"1MΩ","k":"k"},{"x":1.956,"y":-5.022,"t":"50Ω","k":"k"},{"x":2.913,"y":-4.701,"t":"Invert","k":"k"},{"x":2.586,"y":-5.022,"t":"On","k":"k"},{"x":3.2,"y":-5.022,"t":"Off","k":"k"},{"x":4.1,"y":-4.749,"t":"Bandwidth","k":"k"},{"x":4.1,"y":-5.003,"t":"Full","k":"k"},{"x":7.627,"y":-4.701,"t":"^","k":"k"},{"x":7.627,"y":-4.964,"t":"More","k":"k"}]},
 "mark":{"type":"text","font":"DejaVu Sans","fontSize":8,"fontWeight":"bold","align":"center","baseline":"middle"},
 "encoding":{"text":{"field":"t"},"color":{"field":"k","type":"nominal","scale":{"domain":["c1","c2","c3","c4","l1","l2","l3","l4","lb","t1","t2","t3","t4","k","o","w","v1","i1"],"range":["#2a2ad8","#1ec6d8","#a421a4","#1f9f1f","#3b62b4","#2d8c8c","#e83ce8","#22ae4a","#3b5fb0","#1e2b9b","#2aa59a","#a41aa4","#1f9a1f","#333333","#f09a1a","#ffffff","#5656e2","#46c8c8"]},"legend":null}}},
{"data":{"values":[{"x":0.18,"y":-4.131,"t":"1","k":"k"},{"x":1.563,"y":-4.131,"t":"2","k":"k"},{"x":8.789,"y":-4.131,"t":"1","k":"k"},{"x":5.737,"y":-4.365,"t":"T","k":"w"},{"x":-0.123,"y":-4.861,"t":"2","k":"k"},{"x":5.033,"y":-4.876,"t":"2","k":"k"}]},
 "mark":{"type":"text","font":"DejaVu Sans","fontSize":7,"fontWeight":"bold","align":"center","baseline":"middle"},
 "encoding":{"text":{"field":"t"},"color":{"field":"k","type":"nominal","scale":{"domain":["c1","c2","c3","c4","l1","l2","l3","l4","lb","t1","t2","t3","t4","k","o","w","v1","i1"],"range":["#2a2ad8","#1ec6d8","#a421a4","#1f9f1f","#3b62b4","#2d8c8c","#e83ce8","#22ae4a","#3b5fb0","#1e2b9b","#2aa59a","#a41aa4","#1f9a1f","#111111","#f09a1a","#ffffff","#5656e2","#46c8c8"]},"legend":null}}},
{"data":{"values":[{"x":-0.196,"y":4.088,"t":"Tek","k":"k"}]},
 "mark":{"type":"text","font":"DejaVu Sans","fontSize":9,"fontWeight":"bold","align":"left","baseline":"middle"},
 "encoding":{"text":{"field":"t"},"color":{"field":"k","type":"nominal","scale":{"domain":["c1","c2","c3","c4","l1","l2","l3","l4","lb","t1","t2","t3","t4","k","o","w","v1","i1"],"range":["#2a2ad8","#1ec6d8","#a421a4","#1f9f1f","#3b62b4","#2d8c8c","#e83ce8","#22ae4a","#3b5fb0","#1e2b9b","#2aa59a","#a41aa4","#1f9a1f","#111111","#f09a1a","#ffffff","#5656e2","#46c8c8"]},"legend":null}}},
{"data":{"values":[{"x":-0.131,"y":-4.0,"k":"c2"}]},
 "mark":{"type":"point","shape":"M-1,-0.75L0.4,-0.75L1,0L0.4,0.75L-1,0.75Z","size":100,"filled":true,"opacity":1},
 "encoding":{"color":{"field":"k","type":"nominal","scale":{"domain":["c1","c2","c3","c4","l1","l2","l3","l4","lb","t1","t2","t3","t4","k","o","w","v1","i1"],"range":["#2a2ad8","#1ec6d8","#a421a4","#1f9f1f","#3b62b4","#2d8c8c","#e83ce8","#22ae4a","#3b5fb0","#1e2b9b","#2aa59a","#a41aa4","#1f9a1f","#111111","#f09a1a","#ffffff","#5656e2","#46c8c8"]},"legend":null}}},
{"data":{"values":[{"x":-0.115,"y":2.993,"k":"c1"}]},
 "mark":{"type":"point","shape":"M-1,-0.75L0.4,-0.75L1,0L0.4,0.75L-1,0.75Z","size":100,"filled":false,"fill":"#eef0ff","fillOpacity":1,"opacity":1,"strokeWidth":1},
 "encoding":{"stroke":{"field":"k","type":"nominal","scale":{"domain":["c1","c2","c3","c4","l1","l2","l3","l4","lb","t1","t2","t3","t4","k","o","w","v1","i1"],"range":["#2a2ad8","#1ec6d8","#a421a4","#1f9f1f","#3b62b4","#2d8c8c","#e83ce8","#22ae4a","#3b5fb0","#1e2b9b","#2aa59a","#a41aa4","#1f9a1f","#111111","#f09a1a","#ffffff","#5656e2","#46c8c8"]},"legend":null}}},
{"data":{"values":[{"x":-0.135,"y":2.993,"t":"1","k":"c1"},{"x":-0.151,"y":-4.0,"t":"2","k":"w"}]},
 "mark":{"type":"text","font":"DejaVu Sans","fontSize":7,"fontWeight":"bold","align":"center","baseline":"middle"},
 "encoding":{"text":{"field":"t"},"color":{"field":"k","type":"nominal","scale":{"domain":["c1","c2","c3","c4","l1","l2","l3","l4","lb","t1","t2","t3","t4","k","o","w","v1","i1"],"range":["#2a2ad8","#1ec6d8","#a421a4","#1f9f1f","#3b62b4","#2d8c8c","#e83ce8","#22ae4a","#3b5fb0","#1e2b9b","#2aa59a","#a41aa4","#1f9a1f","#111111","#f09a1a","#ffffff","#5656e2","#46c8c8"]},"legend":null}}},
{"data":{"values":[{"x":9.935,"y":2.861,"k":"c1"}]},
 "mark":{"type":"point","shape":"triangle-left","size":25,"filled":true,"opacity":1},
 "encoding":{"color":{"field":"k","type":"nominal","scale":{"domain":["c1","c2","c3","c4","l1","l2","l3","l4","lb","t1","t2","t3","t4","k","o","w","v1","i1"],"range":["#2a2ad8","#1ec6d8","#a421a4","#1f9f1f","#3b62b4","#2d8c8c","#e83ce8","#22ae4a","#3b5fb0","#1e2b9b","#2aa59a","#a41aa4","#1f9a1f","#111111","#f09a1a","#ffffff","#5656e2","#46c8c8"]},"legend":null}}},
{"data":{"values":[{"x":4.845,"y":-6.015,"t":"(b)","k":"k"}]},
 "mark":{"type":"text","font":"Liberation Serif","fontSize":25,"align":"center","baseline":"middle"},
 "encoding":{"text":{"field":"t"},"color":{"field":"k","type":"nominal","scale":{"domain":["c1","c2","c3","c4","l1","l2","l3","l4","lb","t1","t2","t3","t4","k","o","w","v1","i1"],"range":["#2a2ad8","#1ec6d8","#a421a4","#1f9f1f","#3b62b4","#2d8c8c","#e83ce8","#22ae4a","#3b5fb0","#1e2b9b","#2aa59a","#a41aa4","#1f9a1f","#111111","#f09a1a","#ffffff","#5656e2","#46c8c8"]},"legend":null}}}
]
}
]
}
